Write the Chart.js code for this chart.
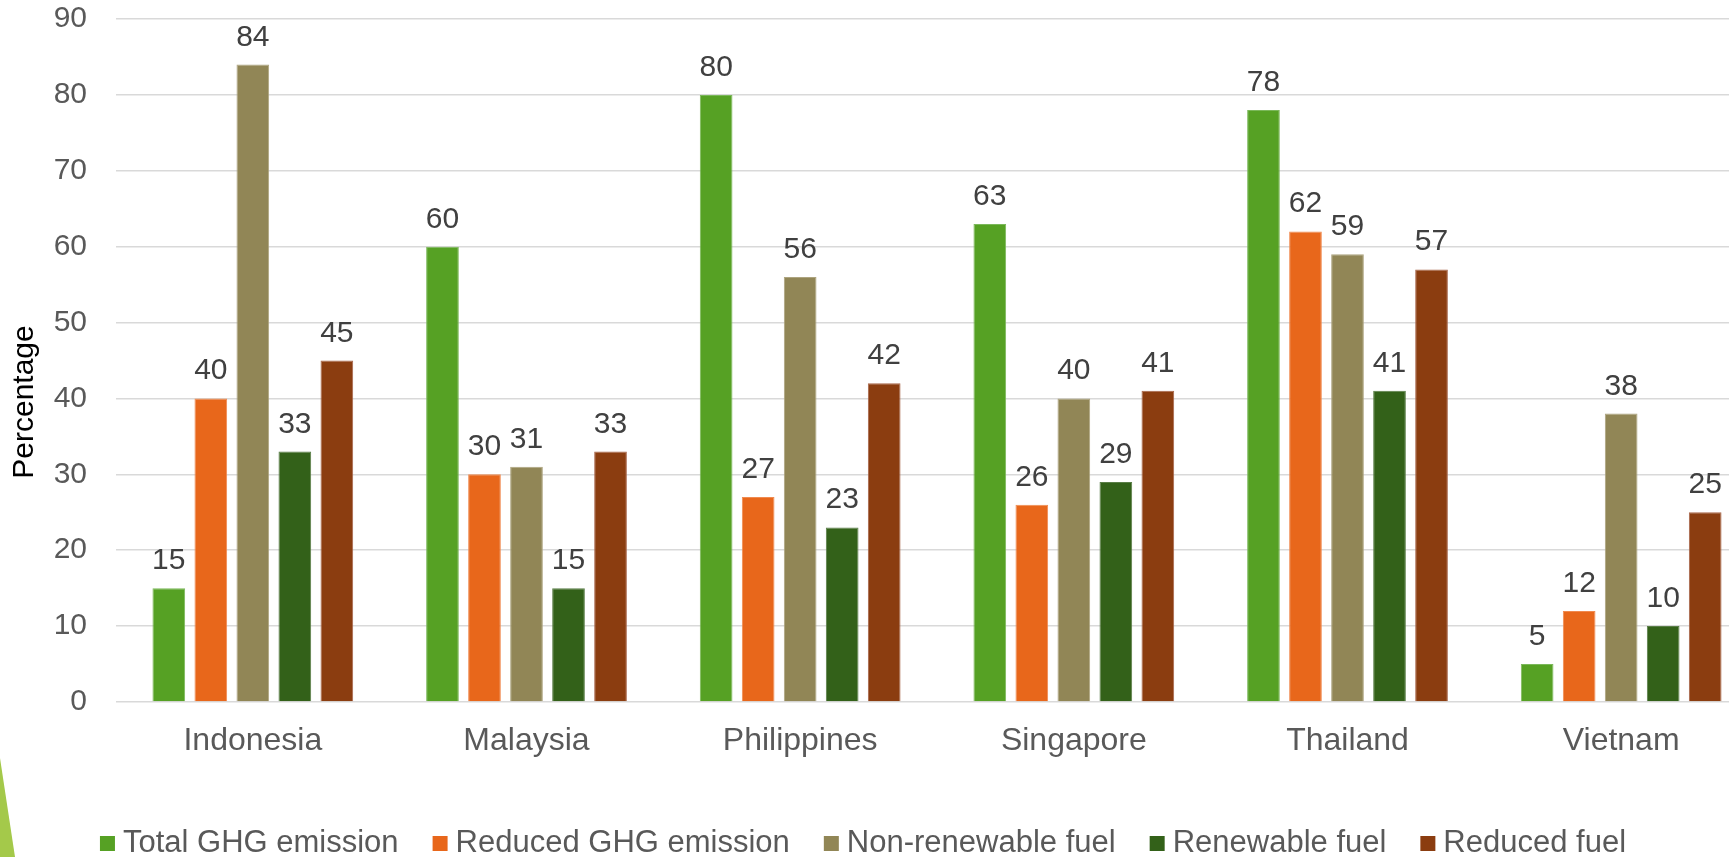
<!DOCTYPE html>
<html>
<head>
<meta charset="utf-8">
<script src="https://cdn.jsdelivr.net/npm/chart.js@4"></script>
<style>
  html, body { margin: 0; padding: 0; background: #ffffff; overflow: hidden; }
  #wrap { position: relative; width: 1729px; height: 857px; overflow: hidden; }
  #chart { position: absolute; left: 0; top: 0; }
  #accent {
    position: absolute; left: 0; top: 740px; width: 20px; height: 117px;
    background: #A4C94A;
    clip-path: polygon(0px 18px, 15px 117px, 0px 117px);
  }
</style>
</head>
<body>
<div id="wrap">
  <canvas id="chart" width="1758" height="857"></canvas>
  <div id="accent"></div>
</div>
<script>
// Countries on the category axis
const countries = ['Indonesia', 'Malaysia', 'Philippines', 'Singapore', 'Thailand', 'Vietnam'];

// Series values (%)
const totalGhg      = [15, 60, 80, 63, 78, 5];
const reducedGhg    = [40, 30, 27, 26, 62, 12];
const nonRenewable  = [84, 31, 56, 40, 59, 38];
const renewable     = [33, 15, 23, 29, 41, 10];
const reducedFuel   = [45, 33, 42, 41, 57, 25];

// Series names
const seriesNames = ['Total GHG emission', 'Reduced GHG emission', 'Non-renewable fuel', 'Renewable fuel', 'Reduced fuel'];

// Value axis ticks
const yTicks = [0, 10, 20, 30, 40, 50, 60, 70, 80, 90];
const axisTitle = 'Percentage';

const FONT = "'Liberation Sans', Arial, sans-serif";
const fills   = ['#56A124', '#E8671B', '#918656', '#336119', '#8B3D10'];
const borders = ['#7BB85A', '#F08A4F', '#ADA47F', '#5A7E47', '#A8654A'];
const seriesValues = [totalGhg, reducedGhg, nonRenewable, renewable, reducedFuel];

const datasets = seriesValues.map((vals, i) => ({
  label: seriesNames[i],
  data: vals,
  backgroundColor: fills[i],
  borderColor: borders[i],
  borderWidth: 1,
  categoryPercentage: 0.7676,
  barPercentage: 0.778
}));

// Value labels above each bar
const valueLabels = {
  id: 'valueLabels',
  afterDatasetsDraw(chart) {
    const ctx = chart.ctx;
    ctx.save();
    ctx.font = '30px ' + FONT;
    ctx.fillStyle = '#404040';
    ctx.textAlign = 'center';
    ctx.textBaseline = 'alphabetic';
    chart.data.datasets.forEach((ds, di) => {
      const meta = chart.getDatasetMeta(di);
      meta.data.forEach((bar, i) => {
        ctx.fillText(String(ds.data[i]), bar.x, bar.y - 19);
      });
    });
    ctx.restore();
  }
};

// Rotated value-axis title
const yTitle = {
  id: 'yTitle',
  afterDraw(chart) {
    const ctx = chart.ctx;
    ctx.save();
    ctx.translate(33, 402);
    ctx.rotate(-Math.PI / 2);
    ctx.font = '30px ' + FONT;
    ctx.fillStyle = '#000000';
    ctx.textAlign = 'center';
    ctx.textBaseline = 'alphabetic';
    ctx.fillText(axisTitle, 0, 0);
    ctx.restore();
  }
};

// Legend row along the bottom, centred in the visible width
const bottomLegend = {
  id: 'bottomLegend',
  afterDraw(chart) {
    const ctx = chart.ctx;
    ctx.save();
    ctx.font = '31px ' + FONT;
    const box = 15, gapText = 8, gapItem = 34;
    const items = chart.data.datasets.map(ds => ({
      label: ds.label, color: ds.backgroundColor, w: ctx.measureText(ds.label).width
    }));
    let total = 0;
    items.forEach((it, i) => { total += box + gapText + it.w + (i < items.length - 1 ? gapItem : 0); });
    let x = 863 - total / 2;
    const baseline = 852;
    items.forEach(it => {
      ctx.fillStyle = it.color;
      ctx.fillRect(x, baseline - box - 1, box, box);
      x += box + gapText;
      ctx.fillStyle = '#595959';
      ctx.textAlign = 'left';
      ctx.textBaseline = 'alphabetic';
      ctx.fillText(it.label, x, baseline);
      x += it.w + gapItem;
    });
    ctx.restore();
  }
};

new Chart(document.getElementById('chart'), {
  type: 'bar',
  data: { labels: countries, datasets },
  options: {
    responsive: false,
    animation: false,
    devicePixelRatio: 1,
    layout: { padding: { top: 19, left: 0, right: 0, bottom: 95 } },
    plugins: {
      legend: { display: false },
      tooltip: { enabled: false },
      title: { display: false }
    },
    scales: {
      x: {
        grid: { display: false, drawTicks: false },
        border: { display: false },
        ticks: {
          font: { family: FONT, size: 32 },
          color: '#595959',
          padding: 20,
          maxRotation: 0,
          autoSkip: false
        },
        afterFit(scale) { scale.height = 60; }
      },
      y: {
        min: 0,
        max: 90,
        afterBuildTicks(scale) { scale.ticks = yTicks.map(v => ({ value: v })); },
        grid: { color: '#D9D9D9', lineWidth: 1.5, drawTicks: false },
        border: { display: false },
        ticks: {
          font: { family: FONT, size: 30 },
          color: '#595959',
          padding: 29
        },
        afterFit(scale) {
          scale.width = 116;
          scale.paddingTop = 0;
          scale.paddingBottom = 0;
        }
      }
    }
  },
  plugins: [valueLabels, yTitle, bottomLegend]
});
</script>
</body>
</html>
